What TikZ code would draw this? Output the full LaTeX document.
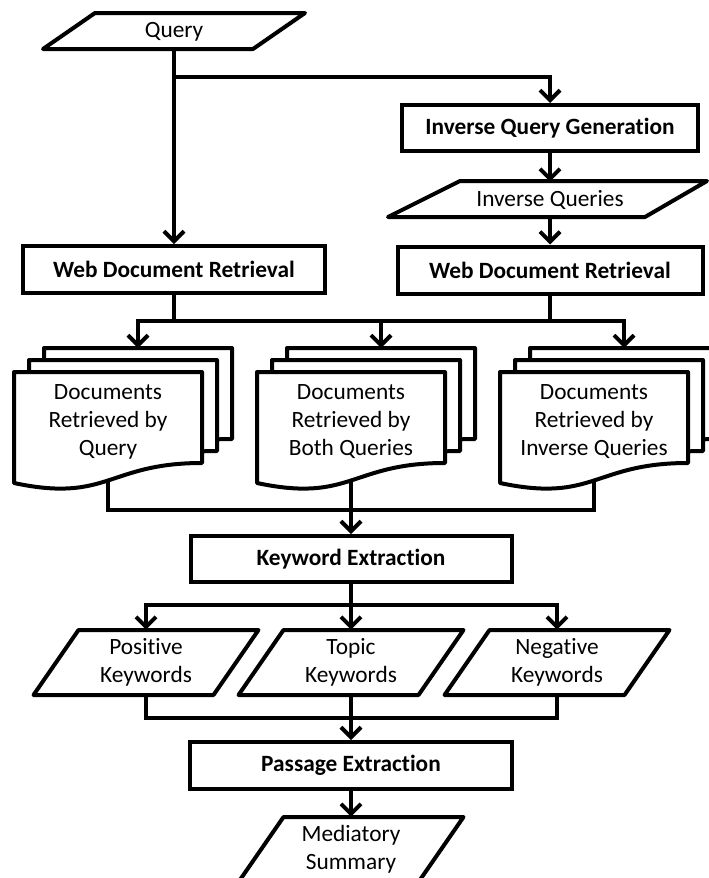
\documentclass[tikz,border=0pt]{standalone}
\usepackage{fontspec}
\setmainfont{Carlito}[Ligatures=NoCommon]
\usetikzlibrary{arrows.meta}

\begin{document}
\begin{tikzpicture}[x=0.75pt, y=-0.75pt,
        every node/.style={font=\fontsize{17.5}{21}\selectfont, align=center, inner sep=0pt},
        proc/.style={draw, line width=3pt, font=\fontsize{17.5}{21}\selectfont\bfseries},
        slanted/.style={draw, line width=3pt, line join=round},
        page/.style={draw, line width=3pt, fill=white, line join=round},
        link/.style={line width=3pt},
        flow/.style={link, -{Straight Barb[length=7.5pt, width=15pt]}}]
        % Frame
        \useasboundingbox (0,0) rectangle (709,878);
        \clip (0,0) rectangle (709,878);

        % Input / output shapes
        \draw[slanted] (95,13) -- (305,13) -- (253,49) -- (43,49) -- cycle;
        \draw[slanted] (460,181) -- (707,181) -- (645,217) -- (388,217) -- cycle;
        \foreach \c in {146,351,557}
            \draw[slanted] (\c-67.5,630) -- (\c+112.5,630) -- (\c+67.5,695) -- (\c-112.5,695) -- cycle;
        \draw[slanted] (283.5,817) -- (463.5,817) -- (418.5,882) -- (238.5,882) -- cycle;

        % Document stacks
        \foreach \c in {108,351,594}
            \foreach \k in {2,1,0}
                \draw[page, shift={(\c-94+15*\k,372-12*\k)}] (0,0) -- (188,0) -- (188,91)
                    .. controls (94,91) and (94,131) .. (0,111) -- cycle;

        % Texts
        \node[minimum height=27pt] (query) at (174,32) {Query};
        \node[minimum height=27pt] (invq) at (550,200) {Inverse Queries};
        \node (docA) at (108,422) {Documents\\Retrieved by\\Query};
        \node (docB) at (351,422) {Documents\\Retrieved by\\Both Queries};
        \node (docC) at (594,422) {Documents\\Retrieved by\\Inverse Queries};
        \node[minimum height=48.75pt] (poskw) at (146,662.5) {Positive\\Keywords};
        \node[minimum height=48.75pt] (topickw) at (351,662.5) {Topic\\Keywords};
        \node[minimum height=48.75pt] (negkw) at (557,662.5) {Negative\\Keywords};
        \node[minimum height=48.75pt] (summary) at (351,849.5) {Mediatory\\Summary};

        % Process boxes
        \node[proc, minimum width=222pt, minimum height=34.5pt] (invgen) at (550,128) {Inverse Query Generation};
        \node[proc, minimum width=226.5pt, minimum height=35.25pt] (webL) at (174,269.5) {Web Document Retrieval};
        \node[proc, minimum width=228.75pt, minimum height=35.25pt] (webR) at (550,270) {Web Document Retrieval};
        \node[proc, minimum width=240.75pt, minimum height=34.5pt] (kwext) at (351,559) {Keyword Extraction};
        \node[proc, minimum width=241.5pt, minimum height=35.25pt] (psgext) at (351,765.5) {Passage Extraction};

        % Junctions
        \coordinate (split1) at (174,77);
        \coordinate (fan1) at (174,321);
        \coordinate (docA-in) at (138,348);
        \coordinate (docB-in) at (381,348);
        \coordinate (docC-in) at (624,348);
        \coordinate (docA-out) at (108,480);
        \coordinate (docB-out) at (351,480);
        \coordinate (docC-out) at (594,480);
        \coordinate (merge1) at (351,510);
        \coordinate (fan2) at (351,605);
        \coordinate (merge2) at (351,718);

        % Connectors
        \draw[flow] (query.south) -- (webL.north);
        \draw[flow] (split1) -| (invgen.north);
        \draw[flow] (invgen.south) -- (invq.north);
        \draw[flow] (invq.south) -- (webR.north);
        \draw[link] (webL.south) -- (fan1);
        \draw[link] (webR.south) -- (webR.south |- fan1);
        \draw[flow] (fan1) -| (docA-in);
        \draw[flow] (fan1) -| (docB-in);
        \draw[flow] (fan1) -| (docC-in);
        \draw[link] (docA-out) |- (merge1) -| (docC-out);
        \draw[flow] (docB-out) -- (kwext.north);
        \draw[link] (kwext.south) -- (fan2);
        \draw[flow] (fan2) -| (poskw.north);
        \draw[flow] (fan2) -- (topickw.north);
        \draw[flow] (fan2) -| (negkw.north);
        \draw[link] (poskw.south) |- (merge2) -| (negkw.south);
        \draw[flow] (topickw.south) -- (psgext.north);
        \draw[flow] (psgext.south) -- (summary.north);
\end{tikzpicture}
\end{document}
